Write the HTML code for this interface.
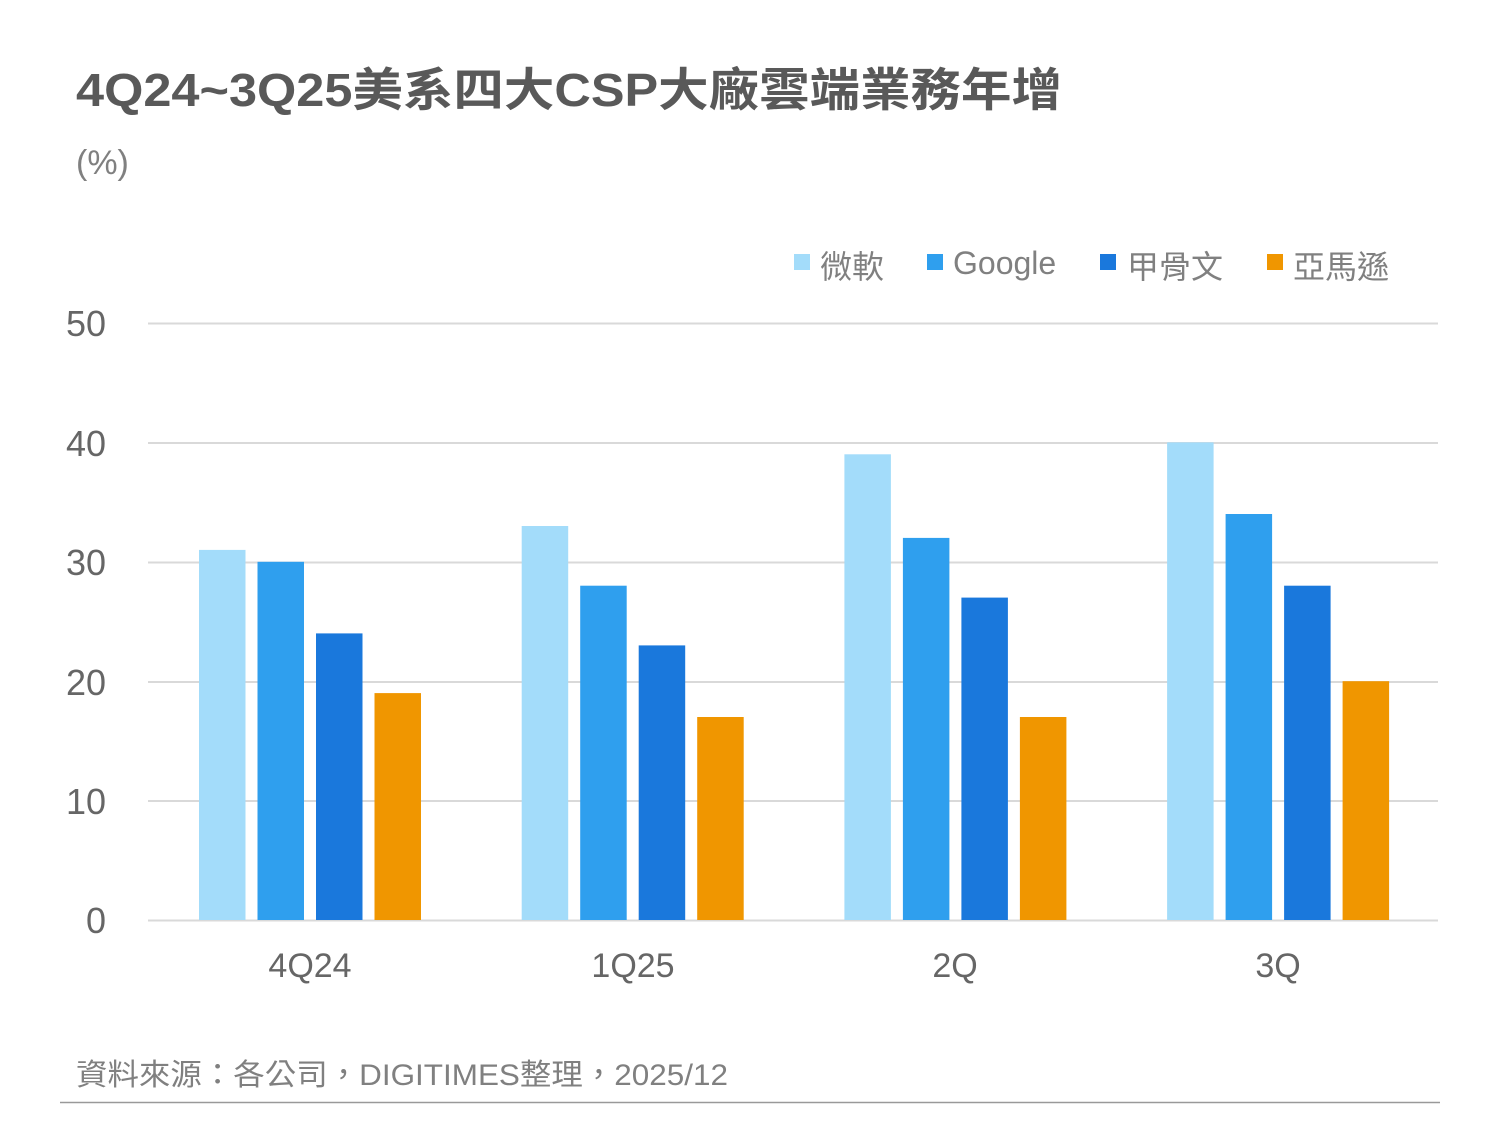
<!DOCTYPE html>
<html><head><meta charset="utf-8"><style>
html,body{margin:0;padding:0;background:#fff}
svg{display:block}
text{font-family:"Liberation Sans","Noto Sans CJK TC",sans-serif}
</style></head><body>
<svg width="1500" height="1125" viewBox="0 0 1500 1125" xmlns="http://www.w3.org/2000/svg">
<text x="76" y="106" font-size="46" font-weight="bold" fill="#595959" textLength="986" lengthAdjust="spacingAndGlyphs">4Q24~3Q25美系四大CSP大廠雲端業務年增</text>
<text x="76" y="174" font-size="34" fill="#808080">(%)</text>
<g font-size="32" fill="#808080">
<rect x="794" y="254" width="16" height="16" fill="#A3DCFA"/><text x="820" y="278">微軟</text>
<rect x="927" y="254" width="16" height="16" fill="#2F9FEE"/><text x="953" y="274">Google</text>
<rect x="1100" y="254" width="16" height="16" fill="#1A78DC"/><text x="1127" y="278">甲骨文</text>
<rect x="1267" y="254" width="16" height="16" fill="#F09600"/><text x="1293" y="278">亞馬遜</text>
</g>
<g stroke="#d9d9d9" stroke-width="2">
<line x1="148" y1="323.5" x2="1438" y2="323.5"/>
<line x1="148" y1="443" x2="1438" y2="443"/>
<line x1="148" y1="562.5" x2="1438" y2="562.5"/>
<line x1="148" y1="682" x2="1438" y2="682"/>
<line x1="148" y1="801" x2="1438" y2="801"/>
<line x1="148" y1="920.5" x2="1438" y2="920.5"/>
</g>
<g font-size="36" fill="#666" text-anchor="end">
<text x="106" y="336">50</text><text x="106" y="456">40</text><text x="106" y="575">30</text>
<text x="106" y="695">20</text><text x="106" y="814">10</text><text x="106" y="933">0</text>
</g>
<g>
<rect x="199" y="549.9" width="46.5" height="370.1" fill="#A3DCFA"/>
<rect x="257.5" y="561.8" width="46.5" height="358.2" fill="#2F9FEE"/>
<rect x="316" y="633.4" width="46.5" height="286.6" fill="#1A78DC"/>
<rect x="374.5" y="693.1" width="46.5" height="226.9" fill="#F09600"/>
<rect x="521.7" y="526" width="46.5" height="394" fill="#A3DCFA"/>
<rect x="580.2" y="585.7" width="46.5" height="334.3" fill="#2F9FEE"/>
<rect x="638.7" y="645.4" width="46.5" height="274.6" fill="#1A78DC"/>
<rect x="697.2" y="717" width="46.5" height="203" fill="#F09600"/>
<rect x="844.4" y="454.3" width="46.5" height="465.7" fill="#A3DCFA"/>
<rect x="902.9" y="537.9" width="46.5" height="382.1" fill="#2F9FEE"/>
<rect x="961.4" y="597.6" width="46.5" height="322.4" fill="#1A78DC"/>
<rect x="1019.9" y="717" width="46.5" height="203" fill="#F09600"/>
<rect x="1167.1" y="442.4" width="46.5" height="477.6" fill="#A3DCFA"/>
<rect x="1225.6" y="514" width="46.5" height="406" fill="#2F9FEE"/>
<rect x="1284.1" y="585.7" width="46.5" height="334.3" fill="#1A78DC"/>
<rect x="1342.6" y="681.2" width="46.5" height="238.8" fill="#F09600"/>
</g>
<g font-size="34" fill="#666" text-anchor="middle">
<text x="310" y="977">4Q24</text><text x="633" y="977">1Q25</text><text x="955" y="977">2Q</text><text x="1278" y="977">3Q</text>
</g>
<text x="76" y="1085" font-size="30" fill="#808080" textLength="652" lengthAdjust="spacingAndGlyphs">資料來源：各公司，DIGITIMES整理，2025/12</text>
<line x1="60" y1="1102.5" x2="1440" y2="1102.5" stroke="#999" stroke-width="1.5"/>
</svg>
</body></html>
